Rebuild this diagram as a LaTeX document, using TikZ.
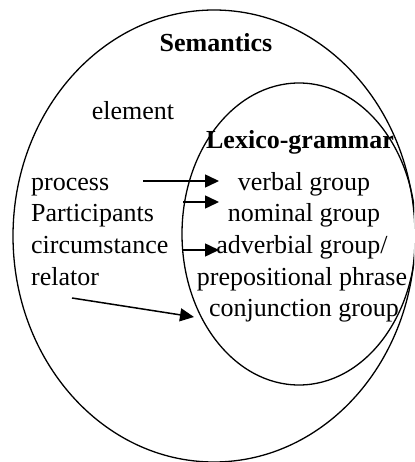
\documentclass[tikz,border=0pt]{standalone}
\usepackage{fontspec}
\setmainfont{Liberation Serif}
\usetikzlibrary{arrows.meta}
\begin{document}
\begin{tikzpicture}[x=1pt,y=-1pt,
  txt/.style={inner sep=0pt,font=\fontsize{26}{31}\selectfont},
  bold/.style={txt,font=\fontsize{26}{31}\selectfont\bfseries},
  ring/.style={draw=black,line width=1.3pt},
  arr/.style={line width=1.5pt,-{Triangle[length=14pt,width=13pt]}}]
\useasboundingbox (0,0) rectangle (414,462);
\clip (0,0) rectangle (414,462);
\fill[white] (0,0) rectangle (414,462);
% ellipses
\draw[ring] (214,236) ellipse [x radius=201, y radius=226];
\draw[ring] (299,234) ellipse [x radius=117, y radius=151];
% titles
\node[bold,anchor=base] (sem) at (216,52) {Semantics};
\node[txt,anchor=base] (elem) at (133,120) {element};
\node[bold,anchor=base] (lex) at (300,149) {Lexico-grammar};
% left column
\node[txt,anchor=base west] (proc) at (31,190) {process};
\node[txt,anchor=base west] (part) at (31,221) {Participants};
\node[txt,anchor=base west] (circ) at (31,253) {circumstance};
\node[txt,anchor=base west] (rel) at (31,285) {relator};
% right column
\node[txt,anchor=base] (verb) at (304,190) {verbal group};
\node[txt,anchor=base] (nom) at (304,221) {nominal group};
\node[txt,anchor=base] (adv) at (302,253) {adverbial group/};
\node[txt,anchor=base] (prep) at (302,285) {prepositional phrase};
\node[txt,anchor=base] (conj) at (304,316) {conjunction group};
% arrow ends
\coordinate (p1) at (143,181);
\coordinate (q1) at (219,181);
\coordinate (p2) at (183,202);
\coordinate (q2) at (219,202);
\coordinate (p3) at (182,250);
\coordinate (q3) at (219,250);
\coordinate (p4) at (72,298);
\coordinate (q4) at (194,317);
\draw[arr] (p1) -- (q1);
\draw[arr] (p2) -- (q2);
\draw[arr] (p3) -- (q3);
\draw[arr] (p4) -- (q4);
\end{tikzpicture}
\end{document}
